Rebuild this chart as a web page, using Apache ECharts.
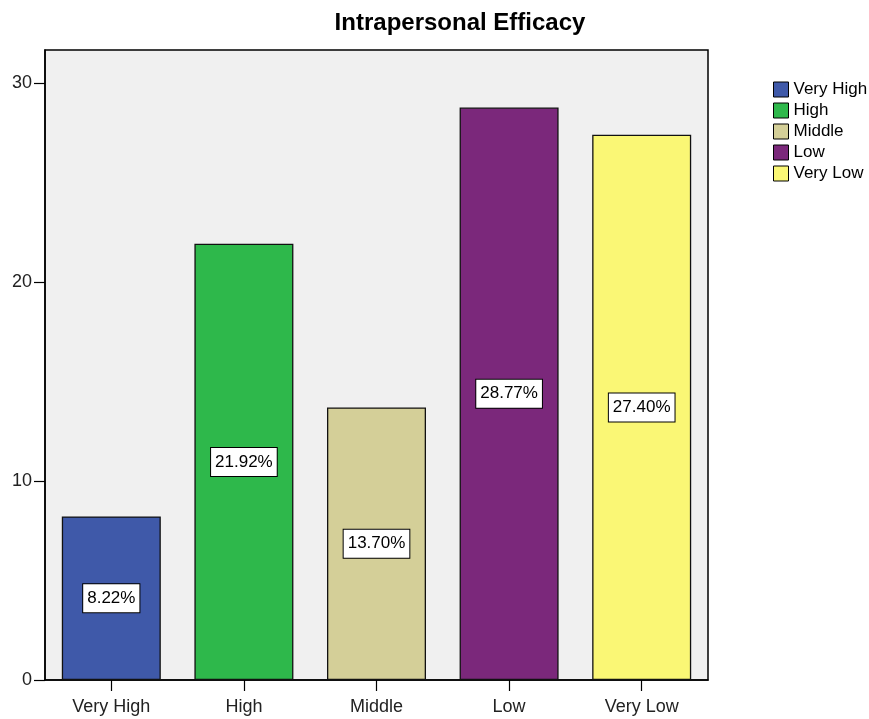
<!DOCTYPE html>
<html>
<head>
<meta charset="utf-8">
<script src="https://cdn.jsdelivr.net/npm/echarts@6/dist/echarts.min.js"></script>
<style>
  html, body { margin: 0; padding: 0; background: #fff; }
  #chart { width: 869px; height: 719px; }
</style>
</head>
<body>
<div id="chart"></div>
<script>
// Intrapersonal Efficacy: share of respondents per level (percent)
const categories = ['Very High', 'High', 'Middle', 'Low', 'Very Low'];
const percentValues = [8.22, 21.92, 13.70, 28.77, 27.40];
const barColors = ['#3f59a9', '#2eb84b', '#d4cf98', '#7b287b', '#faf775'];
const yTickValues = [0, 10, 20, 30];

const FONT = '"Liberation Sans", Arial, sans-serif';

// One series per level so each gets its own legend entry; bars overlap in their slot.
const series = categories.map((name, i) => ({
  name: name,
  type: 'bar',
  barWidth: 99,
  barGap: '-100%',
  itemStyle: { color: barColors[i], borderColor: '#111', borderWidth: 1.3 },
  data: categories.map((_, j) => (j === i ? percentValues[i] : '-')),
  label: {
    show: true,
    position: 'inside',
    formatter: p => p.value.toFixed(2) + '%',
    fontFamily: FONT,
    fontSize: 17,
    color: '#000',
    backgroundColor: '#fff',
    borderColor: '#000',
    borderWidth: 1,
    padding: [6, 4, 5, 4]
  }
}));

const chart = echarts.init(document.getElementById('chart'), null, { renderer: 'canvas' });
chart.setOption({
  animation: false,
  backgroundColor: '#fff',
  title: {
    text: 'Intrapersonal Efficacy',
    left: 455,
    textAlign: 'center',
    top: 6,
    textStyle: { fontFamily: FONT, fontWeight: 'bold', fontSize: 24, color: '#000' }
  },
  legend: {
    orient: 'vertical',
    left: 768,
    top: 76,
    padding: 5,
    itemWidth: 15,
    itemHeight: 15,
    itemGap: 4,
    icon: 'rect',
    itemStyle: { borderColor: '#000', borderWidth: 1 },
    textStyle: { fontFamily: FONT, fontSize: 17, color: '#000', padding: [0, 0, 0, 0] },
    data: categories
  },
  grid: {
    left: 45,
    right: 161,
    top: 50,
    bottom: 39,
    show: true,
    backgroundColor: '#f0f0f0',
    borderColor: '#000',
    borderWidth: 1.5
  },
  xAxis: {
    type: 'category',
    data: categories,
    axisLine: { lineStyle: { color: '#000', width: 1.5 } },
    axisTick: { show: true, alignWithLabel: true, length: 11, lineStyle: { color: '#000', width: 1.2 } },
    axisLabel: { fontFamily: FONT, fontSize: 18, color: '#222', margin: 18 },
    splitLine: { show: false }
  },
  yAxis: {
    type: 'value',
    min: 0,
    max: 31.66,
    interval: 10,
    axisLine: { show: true, lineStyle: { color: '#000', width: 1.5 } },
    axisTick: { show: true, length: 11, customValues: yTickValues, lineStyle: { color: '#000', width: 1.2 } },
    axisLabel: { fontFamily: FONT, fontSize: 18, color: '#222', margin: 13, customValues: yTickValues },
    splitLine: { show: false }
  },
  series: series
});
</script>
</body>
</html>
